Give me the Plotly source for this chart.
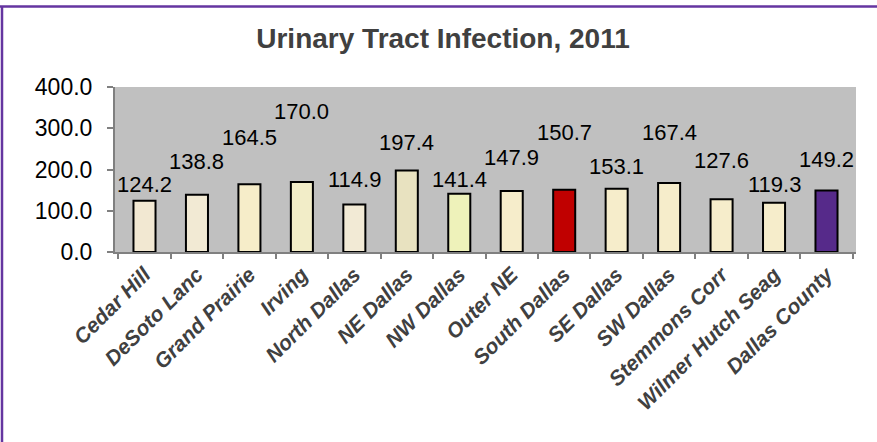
import plotly.graph_objects as go

# Urinary tract infection rates by area, 2011
areas = ["Cedar Hill", "DeSoto Lanc", "Grand Prairie", "Irving", "North Dallas",
         "NE Dallas", "NW Dallas", "Outer NE", "South Dallas", "SE Dallas",
         "SW Dallas", "Stemmons Corr", "Wilmer Hutch Seag", "Dallas County"]
rates = [124.2, 138.8, 164.5, 170.0, 114.9, 197.4, 141.4, 147.9, 150.7, 153.1,
         167.4, 127.6, 119.3, 149.2]
y_ticks = [0, 100, 200, 300, 400]

# presentation: bar fills and how far each value label sits above its bar (px)
bar_colors = ["#F2E8D2", "#F2EAD4", "#F6EDC9", "#F2EDC8", "#F2EAD5", "#E8E2C0",
              "#EEF2BA", "#F6EDCB", "#C00000", "#F6EDCB", "#F6EDCB", "#F6EDCB",
              "#F6EDCB", "#562A8A"]
label_lift = [16, 33, 47, 70, 25, 28, 14, 33, 57, 22, 50, 39, 18, 31]

W, H = 877, 442
L, R, T, B = 115, 21, 87, 190
plot_w, plot_h = W - L - R, H - T - B

fig = go.Figure(go.Bar(
    x=areas, y=rates,
    marker=dict(color=bar_colors, line=dict(color="#000000", width=2)),
    width=0.42,
    hoverinfo="x+y",
))

for a, v, lift in zip(areas, rates, label_lift):
    fig.add_annotation(x=a, y=v, text=f"{v:.1f}", showarrow=False,
                       yanchor="middle", yshift=lift,
                       font=dict(family="Liberation Sans, Arial", size=22, color="#000000"))

# frame lines along the top and left edge of the chart
def px_x(p):
    return (p - L) / plot_w

def px_y(p):
    return (H - B - p) / plot_h

purple = "#6535A0"
fig.add_shape(type="line", xref="paper", yref="paper",
              x0=px_x(0), x1=px_x(W), y0=px_y(6.5), y1=px_y(6.5),
              line=dict(color=purple, width=2.5))
fig.add_shape(type="line", xref="paper", yref="paper",
              x0=px_x(2), x1=px_x(2), y0=px_y(6), y1=px_y(H + 5),
              line=dict(color=purple, width=2.5))

fig.update_layout(
    width=W, height=H,
    margin=dict(l=L, r=R, t=T, b=B),
    paper_bgcolor="#FFFFFF",
    plot_bgcolor="#C0C0C0",
    showlegend=False,
    bargap=0.58,
    title=dict(text="<b>Urinary Tract Infection, 2011</b>",
               x=443 / W, xanchor="center", y=1 - 38 / H, yanchor="middle",
               font=dict(family="Liberation Sans, Arial", size=28, color="#404040")),
    xaxis=dict(
        tickangle=-45,
        tickson="boundaries",
        ticks="outside", ticklen=5, tickwidth=1.5, tickcolor="#808080",
        showline=True, linecolor="#808080", linewidth=2,
        showgrid=False,
        tickfont=dict(family="Liberation Sans, Arial", size=21, color="#404040",
                      weight="bold", style="italic"),
    ),
    yaxis=dict(
        range=[0, 400], tickvals=y_ticks, tickformat=".1f",
        ticks="outside", ticklen=6, tickwidth=1.5, tickcolor="#808080",
        showline=True, linecolor="#808080", linewidth=2,
        showgrid=False, zeroline=False,
        ticklabelstandoff=10,
        tickfont=dict(family="Liberation Sans, Arial", size=23, color="#000000"),
    ),
)

fig.write_html("out.html")
